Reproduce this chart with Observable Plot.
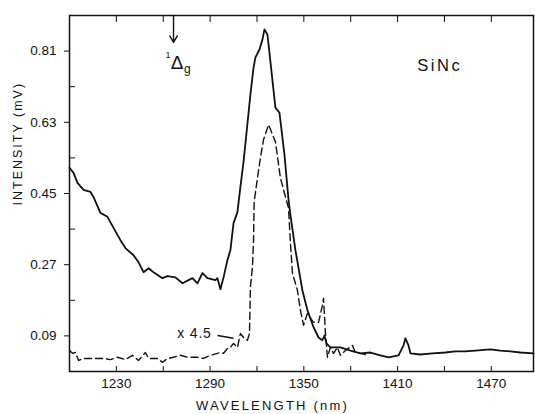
<!DOCTYPE html>
<html><head><meta charset="utf-8">
<script src="https://cdn.jsdelivr.net/npm/d3@7"></script>
<script src="https://cdn.jsdelivr.net/npm/@observablehq/plot@0.6"></script>
<style>body{margin:0;background:#fff;} svg{display:block;}</style>
</head><body><div id="chart"></div>
<script>
// Solid trace (as measured)
const solidWavelength = [1200,1202.6,1205.1,1209,1213.4,1215.4,1219.8,1224.3,1228.2,1232.6,1235.8,1241,1244.2,1247.4,1250.6,1253.8,1259.5,1262.7,1267.8,1272.3,1278.7,1281.9,1285.1,1288.3,1293.4,1294.7,1296.6,1298.6,1301.1,1303,1305,1307.5,1309.4,1311.4,1315.8,1317.8,1319,1321.6,1323.5,1324.8,1326.7,1329.3,1331.8,1334.4,1337.6,1340.2,1341.4,1344.6,1349.1,1352.3,1356.2,1359.4,1361.9,1363.2,1364.5,1367,1373.4,1379.8,1386.2,1392.6,1399,1404.2,1410.6,1413.8,1415,1417,1418.2,1424.6,1432.3,1440.6,1447,1453.4,1459.8,1469.4,1475.8,1482.2,1488.6,1497];
const solidIntensity = [0.515,0.502,0.477,0.459,0.454,0.441,0.401,0.391,0.363,0.332,0.312,0.294,0.276,0.251,0.261,0.251,0.236,0.241,0.238,0.223,0.236,0.223,0.249,0.236,0.231,0.236,0.208,0.238,0.282,0.307,0.375,0.403,0.467,0.53,0.70,0.768,0.794,0.814,0.839,0.865,0.852,0.758,0.667,0.654,0.548,0.434,0.396,0.307,0.205,0.155,0.112,0.086,0.079,0.091,0.071,0.061,0.061,0.053,0.046,0.048,0.041,0.036,0.041,0.066,0.084,0.066,0.046,0.043,0.046,0.048,0.051,0.051,0.053,0.056,0.053,0.051,0.048,0.046];
// Dashed trace (x 4.5)
const dashedWavelength = [1200,1201.9,1203.8,1205.8,1209,1216.6,1221.8,1226.2,1230.7,1235.8,1240.3,1244.2,1248.6,1250.6,1256.3,1259.5,1262.7,1266.6,1271,1275.5,1281.9,1285.8,1290.2,1294.7,1296.6,1298.6,1301.1,1303,1305,1307.5,1309.4,1311.4,1313.9,1315.2,1315.8,1317.1,1317.8,1318.2,1320.3,1322.2,1324.2,1327.4,1331.8,1335,1340.2,1341.4,1342.7,1345.9,1347.8,1349.8,1352.3,1356,1359.4,1361.9,1362.6,1363.8,1365.1,1367,1369,1371.5,1373.4,1376.6,1381.1,1383,1386.2,1390.7];
const dashedIntensity = [0.053,0.046,0.048,0.028,0.033,0.033,0.033,0.030,0.036,0.030,0.041,0.028,0.048,0.033,0.033,0.023,0.033,0.036,0.041,0.036,0.036,0.033,0.041,0.046,0.048,0.046,0.058,0.061,0.071,0.061,0.096,0.086,0.079,0.096,0.213,0.264,0.332,0.429,0.489,0.540,0.586,0.624,0.581,0.489,0.413,0.325,0.249,0.205,0.155,0.117,0.147,0.125,0.124,0.167,0.185,0.099,0.036,0.061,0.046,0.061,0.041,0.053,0.066,0.048,0.046,0.041];

const yTickLabels = [0.09, 0.27, 0.45, 0.63, 0.81];
const yMinorTicks = [0.18, 0.36, 0.54, 0.72];
const xTickLabels = [1230, 1290, 1350, 1410, 1470];
const xTickMarks = [1230, 1260, 1290, 1320, 1350, 1380, 1410, 1440, 1470];

const xLabel = "WAVELENGTH (nm)";
const yLabel = "INTENSITY (mV)";

// Annotations (data units)
const sampleLabel = [{x: 1437, y: 0.773, text: "SiNc"}];
const scaleLabel = [{x: 1280, y: 0.096, text: "x 4.5"}];
const scaleLeader = [{x1: 1294.7, y1: 0.091, x2: 1305, y2: 0.084}];
const stateArrow = [{x1: 1266.6, y1: 0.9, x2: 1266.6, y2: 0.832}];
const stateSup = [{x: 1263.0, y: 0.800, text: "1"}];
const stateMain = [{x: 1268.8, y: 0.779, text: "Δ"}];
const stateSub = [{x: 1275.4, y: 0.764, text: "g"}];

const solid = solidWavelength.map((w, i) => ({w, v: solidIntensity[i]}));
const dashed = dashedWavelength.map((w, i) => ({w, v: dashedIntensity[i]}));

const ink = "#111";
const chart = Plot.plot({
  width: 535, height: 414,
  marginLeft: 69, marginRight: 2, marginTop: 15, marginBottom: 43,
  style: {fontFamily: "'Liberation Sans', Arial, sans-serif", fontSize: "13.5px", color: ink, background: "#fff"},
  x: {domain: [1200, 1497]},
  y: {domain: [0, 0.9]},
  marks: [
    Plot.frame({stroke: ink, strokeWidth: 1.5}),
    Plot.axisY(yTickLabels, {anchor: "left", tickSize: 5, tickPadding: 8, tickFormat: d => d.toFixed(2), label: null}),
    Plot.axisY(yMinorTicks, {anchor: "left", tickSize: 6, dx: 6, tickFormat: () => "", label: null}),
    Plot.axisX(xTickLabels, {anchor: "bottom", tickSize: 0, tickPadding: 7, tickFormat: d => String(d), label: null}),
    Plot.axisX(xTickMarks, {anchor: "bottom", tickSize: 5, dy: -5, tickFormat: () => "", label: null}),
    Plot.axisX(xTickMarks, {anchor: "top", tickSize: 6, dy: 6, tickFormat: () => "", label: null}),
    Plot.text([xLabel], {text: d => d, frameAnchor: "bottom", dy: 34, dx: -29, fontSize: 13, lineAnchor: "middle"}),
    Plot.text([yLabel], {text: d => d, frameAnchor: "left", rotate: -90, dx: -52, dy: 12, fontSize: 12.5}),
    Plot.line(solid, {x: "w", y: "v", stroke: ink, strokeWidth: 1.8, curve: "linear"}),
    Plot.line(dashed, {x: "w", y: "v", stroke: ink, strokeWidth: 1.4, strokeDasharray: "7,4"}),
    Plot.text(sampleLabel, {x: "x", y: "y", text: "text", fontSize: 16.5}),
    Plot.text(scaleLabel, {x: "x", y: "y", text: "text", fontSize: 14}),
    Plot.link(scaleLeader, {x1: "x1", y1: "y1", x2: "x2", y2: "y2", stroke: ink, strokeWidth: 1.4}),
    Plot.arrow(stateArrow, {x1: "x1", y1: "y1", x2: "x2", y2: "y2", stroke: ink, strokeWidth: 1.4, headLength: 8}),
    Plot.text(stateSup, {x: "x", y: "y", text: "text", fontSize: 9}),
    Plot.text(stateMain, {x: "x", y: "y", text: "text", fontSize: 19}),
    Plot.text(stateSub, {x: "x", y: "y", text: "text", fontSize: 12})
  ]
});
// letter spacing for the typewriter-like labels
const spacing = new Map([[xLabel, 2.2], [yLabel, 2], ["SiNc", 2.5], ["x 4.5", 0.8]]);
d3.select(chart).selectAll("text").each(function() {
  const s = spacing.get(this.textContent);
  if (s != null) this.setAttribute("letter-spacing", s);
});
document.getElementById("chart").appendChild(chart);
</script>
</body></html>
